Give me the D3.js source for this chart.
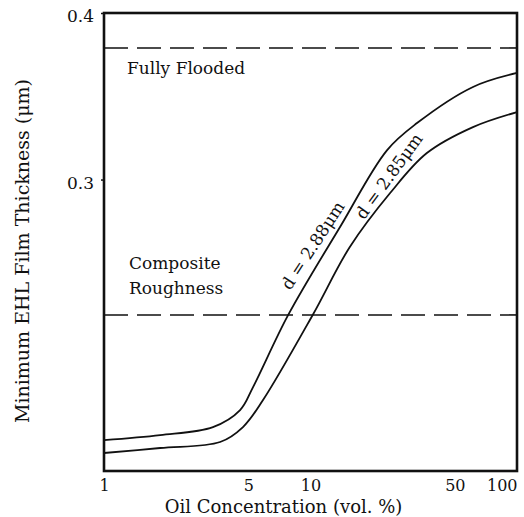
<!DOCTYPE html>
<html lang="en">
<head>
<meta charset="utf-8">
<script src="https://d3js.org/d3.v7.min.js"></script>
<style>
  body { margin: 0; background: #fff; }
  svg text { font-family: "DejaVu Serif", serif; fill: #111; }
</style>
</head>
<body>
<div id="chart"></div>
<script>
// oil concentration (vol. %) and film thickness (um)
var concUpper = [1, 1.87, 3.37, 4.56, 5.27, 7.8, 13.9, 23.5, 32.8, 61.2, 100];
var filmUpper = [0.1436, 0.1466, 0.1514, 0.1616, 0.1754, 0.2187, 0.2715, 0.3177, 0.3339, 0.3556, 0.3640];
var concLower = [1, 1.87, 3.65, 4.71, 5.89, 10.25, 15.5, 24.3, 36.6, 61.2, 100];
var filmLower = [0.1358, 0.1388, 0.1424, 0.1514, 0.1676, 0.2187, 0.2595, 0.2919, 0.3159, 0.3315, 0.3405];
var curveNames = ["d = 2.88\u03bcm", "d = 2.85\u03bcm"];

var xTicks = [1, 5, 10, 50, 100];
var yTicks = [0.3, 0.4];
var fullyFlooded = 0.379;
var compositeRoughness = 0.2187;

var width = 524, height = 517;
var plotLeft = 104, plotRight = 517, plotTop = 13, plotBottom = 471;
var fs = "17px";

var svg = d3.select("#chart").append("svg")
	.attr("width", width)
	.attr("height", height);

var x = d3.scaleLog().domain([1, 100]).range([plotLeft, plotRight]);
var y = d3.scaleLinear().domain([0.125, 0.4]).range([plotBottom, plotTop]);

// reference levels
[fullyFlooded, compositeRoughness].forEach(function(v) {
	svg.append("line")
		.attr("x1", plotLeft).attr("x2", plotRight)
		.attr("y1", y(v)).attr("y2", y(v))
		.attr("stroke", "#111")
		.attr("stroke-width", 1.6)
		.attr("stroke-dasharray", "24,9");
});

svg.append("text")
	.attr("x", plotLeft + 23)
	.attr("y", y(fullyFlooded) + 26)
	.style("font-size", fs)
	.text("Fully Flooded");

svg.append("text")
	.attr("x", plotLeft + 25)
	.attr("y", y(compositeRoughness) - 46)
	.style("font-size", fs)
	.text("Composite");
svg.append("text")
	.attr("x", plotLeft + 25)
	.attr("y", y(compositeRoughness) - 21)
	.style("font-size", fs)
	.text("Roughness");

// curves
var line = d3.line()
	.x(function(d) { return x(d[0]); })
	.y(function(d) { return y(d[1]); })
	.curve(d3.curveCatmullRom.alpha(0.5));

var series = [d3.zip(concUpper, filmUpper), d3.zip(concLower, filmLower)];
series.forEach(function(s) {
	svg.append("path")
		.datum(s)
		.attr("d", line)
		.attr("fill", "none")
		.attr("stroke", "#111")
		.attr("stroke-width", 1.8);
});

// curve labels, rotated along the slope
var labelAt = [[11.1, 0.2577], [25.9, 0.2991]];
var labelAngle = [-57, -54];
curveNames.forEach(function(name, i) {
	svg.append("text")
		.attr("transform", "translate(" + x(labelAt[i][0]) + "," + y(labelAt[i][1]) + ") rotate(" + labelAngle[i] + ")")
		.attr("text-anchor", "middle")
		.attr("dy", "-0.15em")
		.style("font-size", fs)
		.text(name);
});

// frame
svg.append("rect")
	.attr("x", plotLeft).attr("y", plotTop)
	.attr("width", plotRight - plotLeft).attr("height", plotBottom - plotTop)
	.attr("fill", "none")
	.attr("stroke", "#111")
	.attr("stroke-width", 2.6);

// axes
var xAxis = svg.append("g")
	.attr("transform", "translate(0," + plotBottom + ")")
	.call(d3.axisBottom(x).tickValues(xTicks).tickFormat(d3.format("d")).tickSize(0).tickPadding(9));
xAxis.select(".domain").remove();
xAxis.selectAll("text").style("font-size", "16px").attr("fill", "#111")
	.attr("text-anchor", function(d) { return d === 100 ? "end" : "middle"; });

var yAxis = svg.append("g")
	.attr("transform", "translate(" + plotLeft + ",0)")
	.call(d3.axisLeft(y).tickValues(yTicks).tickFormat(d3.format(".1f")).tickSize(3).tickPadding(7));
yAxis.select(".domain").remove();
yAxis.selectAll("line").attr("stroke", "#111").attr("stroke-width", 1.5);
yAxis.selectAll("text").style("font-size", fs).attr("fill", "#111").attr("dy", "0.5em");

svg.append("text")
	.attr("x", (plotLeft + plotRight) / 2 - 27)
	.attr("y", 513)
	.attr("text-anchor", "middle")
	.style("font-size", "18px")
	.text("Oil Concentration (vol. %)");

svg.append("text")
	.attr("transform", "translate(29," + ((plotTop + plotBottom) / 2 + 9) + ") rotate(-90)")
	.attr("text-anchor", "middle")
	.style("font-size", "19px")
	.text("Minimum EHL Film Thickness (\u03bcm)");
</script>
</body>
</html>
